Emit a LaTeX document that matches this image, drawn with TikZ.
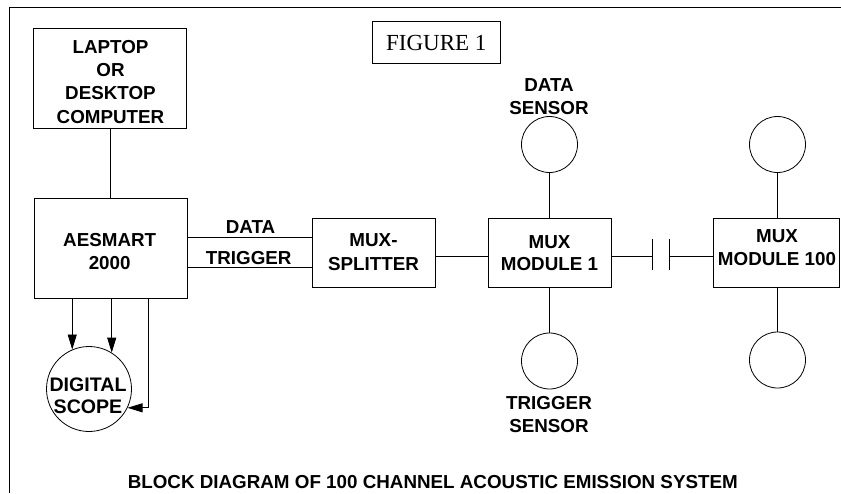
\documentclass[tikz,border=0pt]{standalone}
\usepackage{fontspec}
\setmainfont{Liberation Sans}
\newfontfamily\figserif{Liberation Serif}
\usetikzlibrary{arrows.meta}
\begin{document}
\begin{tikzpicture}[x=1pt,y=-1pt,line width=0.8pt,
  blk/.style={draw,rectangle,inner sep=0pt},
  lbl/.style={font=\fontsize{18.8}{22.7}\selectfont\bfseries,align=center,inner sep=0pt},
  sens/.style={draw,circle,minimum size=56pt,inner sep=0pt},
  arr/.style={-{Triangle[length=15pt,width=9pt]}}]
\useasboundingbox (0,0) rectangle (841,493);
% frame
\coordinate (frTR) at (841,7);
\coordinate (frTL) at (9,7);
\coordinate (frBL) at (9,493);
\draw (frTR) -- (frTL) -- (frBL);
% figure label
\node[blk,minimum width=128pt,minimum height=42pt] (fig) at (436,42) {};
\node[inner sep=0pt,font=\figserif\fontsize{23}{26}\selectfont] (figT) at (436.3,43) {FIGURE 1};
% laptop
\node[blk,minimum width=153pt,minimum height=100pt] (laptop) at (109.5,78) {};
\node[lbl,font=\fontsize{18.8}{23.3}\selectfont\bfseries] (laptopT) at (110.5,81.7) {LAPTOP\\OR\\DESKTOP\\COMPUTER};
% aesmart
\node[blk,minimum width=153pt,minimum height=100pt] (aes) at (110.5,248) {};
\node[lbl] (aesT) at (109.7,251.3) {AESMART\\2000};
% splitter
\node[blk,minimum width=123pt,minimum height=69pt] (split) at (373.5,252.5) {};
\node[lbl,font=\fontsize{18.8}{24}\selectfont\bfseries] (splitT) at (373.5,252.5) {MUX-\\SPLITTER};
% mux 1
\node[blk,minimum width=123pt,minimum height=69pt] (mux1) at (549.5,252.5) {};
\node[lbl] (mux1T) at (549.5,253) {MUX\\MODULE 1};
% mux 100
\node[blk,minimum width=126pt,minimum height=69pt] (mux100) at (776,252.5) {};
\node[lbl,font=\fontsize{18.8}{23.7}\selectfont\bfseries] (mux100T) at (777,247.5) {MUX\\MODULE 100};
% sensors
\node[sens] (dsens) at (549.5,144.5) {};
\node[sens] (tsens) at (549.5,361) {};
\node[sens] (dsens2) at (777.5,144.5) {};
\node[sens] (tsens2) at (777.5,360) {};
\node[lbl] (dsensT) at (549,96.7) {DATA\\SENSOR};
\node[lbl] (tsensT) at (549,414.2) {TRIGGER\\SENSOR};
% digital scope
\node[draw,circle,minimum size=85pt,inner sep=0pt] (scope) at (89,389) {};
\node[lbl,font=\fontsize{19.6}{21.7}\selectfont\bfseries] (scopeT) at (88,395.8) {DIGITAL\\SCOPE};
% connectors
\draw (laptop.south -| aes.north) -- (aes.north);
\coordinate (dataY) at (0,237);
\coordinate (trigY) at (0,267);
\coordinate (busY) at (0,256);
\draw (aes.east |- dataY) -- (split.west |- dataY);
\draw (aes.east |- trigY) -- (split.west |- trigY);
\node[lbl] (dataL) at (250.5,227.2) {DATA};
\node[lbl] (trigL) at (248.7,258.3) {TRIGGER};
\draw (split.east |- busY) -- (mux1.west |- busY);
\coordinate (b1t) at (652,239);
\coordinate (b1b) at (652,270);
\coordinate (b2t) at (669,239);
\coordinate (b2b) at (669,270);
\draw (b1t) -- (b1b);
\draw (b2t) -- (b2b);
\draw (mux1.east |- busY) -- (b1t |- busY);
\draw (b2t |- busY) -- (mux100.west |- busY);
\draw (dsens.south) -- (dsens.south |- mux1.north);
\draw (tsens.north) -- (tsens.north |- mux1.south);
\draw (dsens2.south) -- (dsens2.south |- mux100.north);
\draw (tsens2.north) -- (tsens2.north |- mux100.south);
% arrows to scope
\coordinate (elbow) at (148.3,0);
\draw[arr] (aes.south -| scope.113.6) -- (scope.113.6);
\draw[arr] (aes.south -| scope.58.8) -- (scope.58.8);
\draw[arr] (aes.south -| elbow) |- (scope.-26.1);
% title
\node[lbl] (title) at (432.8,481.7) {BLOCK DIAGRAM OF 100 CHANNEL ACOUSTIC EMISSION SYSTEM};
\end{tikzpicture}
\end{document}
